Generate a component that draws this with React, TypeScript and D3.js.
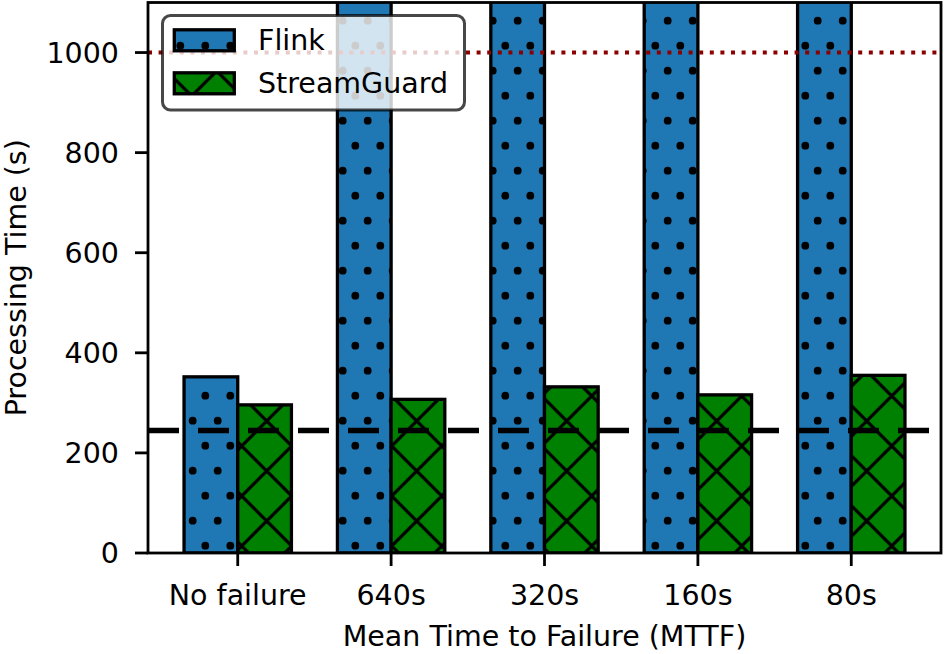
import React from 'react';
import * as d3 from 'd3';

const categories = ['No failure', '640s', '320s', '160s', '80s'];
const flinkValues = [352, 1500, 1500, 1500, 1500];
const streamGuardValues = [296, 307, 332, 316, 355];
const yTicks = [0, 200, 400, 600, 800, 1000];
const baselineValue = 245;
const timeoutValue = 1000;

const W = 944;
const H = 654;
const FONT = '"DejaVu Sans", sans-serif';
const FS = 28.5;

const App = () => {
  const left = 148;
  const right = 941;
  const top = 2.5;
  const bottom = 553;
  const barW = 0.35;

  const x = d3.scaleLinear().domain([-0.585, 4.585]).range([left, right]);
  const y = d3.scaleLinear().domain([0, 1100]).range([bottom, top]);
  const bw = x(barW) - x(0);

  return (
    <svg width={W} height={H} style={{ position: 'absolute', left: 0, top: 0, background: '#fff' }}
      fontFamily={FONT}>
      <defs>
        <clipPath id="plot">
          <rect x={left} y={top} width={right - left} height={bottom - top} />
        </clipPath>
        <pattern id="dots" patternUnits="userSpaceOnUse" x={0} y={0} width={25} height={50}>
          <rect width={25} height={50} fill="#1f77b4" />
          <circle cx={17.7} cy={20.7} r={3.9} fill="#000" />
          <circle cx={5.3} cy={45.7} r={3.9} fill="#000" />
        </pattern>
        <pattern id="cross" patternUnits="userSpaceOnUse" x={16.7} y={21} width={50} height={50}>
          <rect width={50} height={50} fill="#008000" />
          <path d="M-10,-10L60,60M40,-10L60,10M-10,40L10,60M60,-10L-10,60M10,-10L-10,10M60,40L40,60"
            stroke="#000" strokeWidth={3.2} fill="none" />
        </pattern>
      </defs>

      <g clipPath="url(#plot)">
        {categories.map((c, i) => (
          <g key={c}>
            <rect x={x(i - barW)} y={y(flinkValues[i])} width={bw}
              height={y(0) - y(flinkValues[i])} fill="url(#dots)" stroke="#000" strokeWidth={3.3} />
            <rect x={x(i)} y={y(streamGuardValues[i])} width={bw}
              height={y(0) - y(streamGuardValues[i])} fill="url(#cross)" stroke="#000" strokeWidth={3.3} />
          </g>
        ))}
        <line x1={left} x2={right} y1={y(baselineValue)} y2={y(baselineValue)}
          stroke="#000" strokeWidth={5.5} strokeDasharray="31 19" />
        <line x1={left} x2={right} y1={y(timeoutValue)} y2={y(timeoutValue)}
          stroke="#8b0000" strokeWidth={4} strokeDasharray="4 6.6" />
      </g>

      {/* frame */}
      <rect x={left} y={top} width={right - left} height={bottom - top}
        fill="none" stroke="#000" strokeWidth={2.8} />

      {/* y axis */}
      {yTicks.map(t => (
        <g key={t}>
          <line x1={left - 13} x2={left} y1={y(t)} y2={y(t)} stroke="#000" strokeWidth={2.8} />
          <text x={119} y={y(t)} dy="0.36em" textAnchor="end" fontSize={FS}>{t}</text>
        </g>
      ))}
      <text transform={`translate(26,${(top + bottom) / 2}) rotate(-90)`} textAnchor="middle"
        fontSize={FS}>Processing Time (s)</text>

      {/* x axis */}
      {categories.map((c, i) => (
        <g key={c}>
          <line x1={x(i)} x2={x(i)} y1={bottom} y2={bottom + 13} stroke="#000" strokeWidth={2.8} />
          <text x={x(i)} y={605} textAnchor="middle" fontSize={FS}>{c}</text>
        </g>
      ))}
      <text x={(left + right) / 2} y={646} textAnchor="middle" fontSize={FS}>
        Mean Time to Failure (MTTF)
      </text>

      {/* legend */}
      <rect x={162.5} y={15.5} width={302} height={94.5} rx={8} fill="#fff" fillOpacity={0.8}
        stroke="#000" strokeOpacity={0.72} strokeWidth={3} />
      <rect x={174.3} y={29.8} width={60} height={21} fill="url(#dots)" stroke="#000" strokeWidth={3.3} />
      <text x={258} y={50} fontSize={FS}>Flink</text>
      <rect x={174.3} y={72.8} width={60} height={21} fill="url(#cross)" stroke="#000" strokeWidth={3.3} />
      <text x={258} y={93} fontSize={FS}>StreamGuard</text>
    </svg>
  );
};

export default App;
